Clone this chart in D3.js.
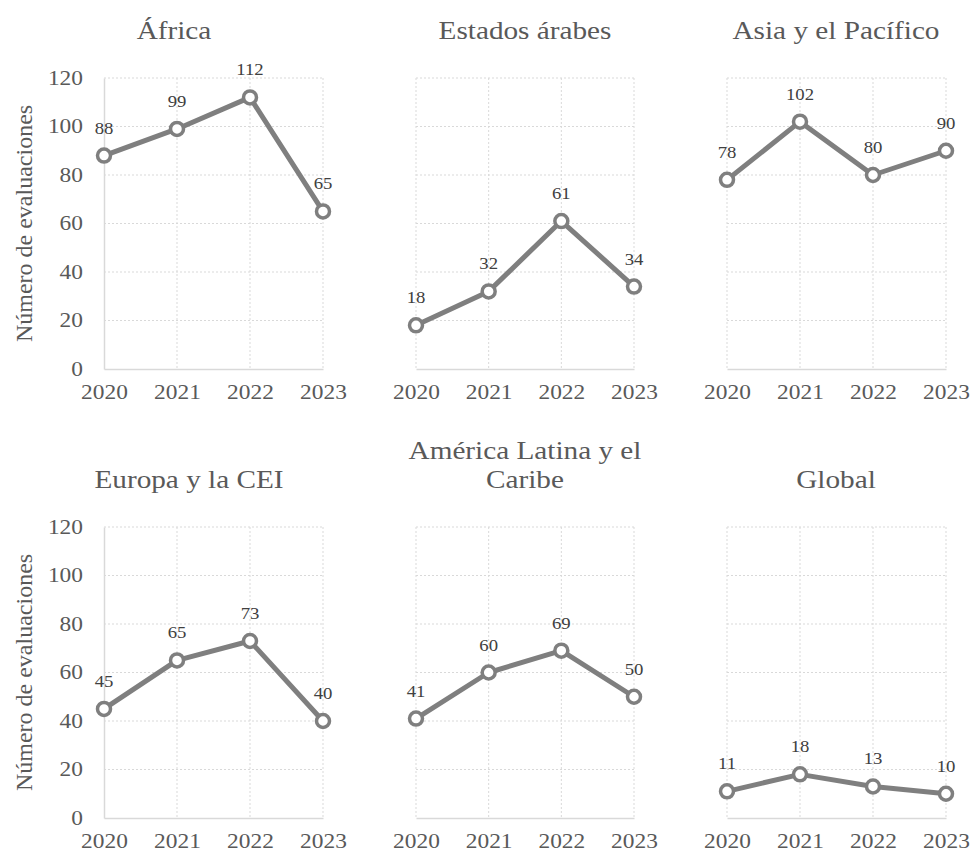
<!DOCTYPE html>
<html>
<head>
<meta charset="utf-8">
<script src="https://cdn.jsdelivr.net/npm/d3@7"></script>
<style>
	body { margin: 0; background: #fff; }
	svg text { font-family: "Liberation Serif", "Times New Roman", Tinos, Times, serif; fill: #595959; }
</style>
</head>
<body>
<div class="chart"></div>
<script>
// EVALUACIONES POR REGIÓN, SMALL MULTIPLES
const years = ['2020', '2021', '2022', '2023'];
const regions = ['África', 'Estados árabes', 'Asia y el Pacífico', 'Europa y la CEI', 'América Latina y el Caribe', 'Global'];
const africa = [88, 99, 112, 65];
const arabStates = [18, 32, 61, 34];
const asiaPacific = [78, 102, 80, 90];
const europeCis = [45, 65, 73, 40];
const latinAmerica = [41, 60, 69, 50];
const global = [11, 18, 13, 10];
const yTicks = [0, 20, 40, 60, 80, 100, 120];
const yTitle = 'Número de evaluaciones';

const series = [africa, arabStates, asiaPacific, europeCis, latinAmerica, global];

// layout of the 6 plot areas
const cols = [[104, 323], [416, 634], [727, 946]];
const rows = [[78, 369], [527, 818]];
const titleX = [174, 525, 836, 189, 525, 836];
const stretch = 'scale(1.17,1)'; // the text in the picture is a bit wide
const font = '"Liberation Serif", "Times New Roman", Tinos, Times, serif';
const grey = '#7f7f7f';
const gridColor = '#d9d9d9';

const svg = d3.select('.chart')
	.append('svg')
		.attr('width', 970)
		.attr('height', 852);

regions.forEach((name, i) => {
	const col = i % 3;
	const row = Math.floor(i / 3);
	const [x0, x1] = cols[col];
	const [y0, y1] = rows[row];
	const values = series[i];

	const xScale = d3.scalePoint()
		.domain(years)
		.range([x0, x1]);

	const yScale = d3.scaleLinear()
		.domain([0, 120])
		.range([y1, y0]);

	const g = svg.append('g').attr('class', 'panel');

	// dotted gridlines
	g.selectAll('.hgrid')
		.data(yTicks.filter(d => d > 0))
		.enter()
		.append('line')
			.attr('x1', x0).attr('x2', x1)
			.attr('y1', d => yScale(d)).attr('y2', d => yScale(d))
			.attr('stroke', gridColor)
			.attr('stroke-dasharray', '2,2');

	g.selectAll('.vgrid')
		.data(col === 0 ? years.slice(1) : years)
		.enter()
		.append('line')
			.attr('x1', d => xScale(d)).attr('x2', d => xScale(d))
			.attr('y1', y0).attr('y2', y1)
			.attr('stroke', gridColor)
			.attr('stroke-dasharray', '2,2');

	// x axis
	const xAxis = g.append('g')
		.attr('transform', `translate(0, ${y1})`)
		.attr('font-family', font)
		.call(d3.axisBottom(xScale).tickSize(0));
	xAxis.select('.domain').attr('stroke', gridColor).attr('stroke-width', 1.5);
	xAxis.selectAll('text')
		.attr('y', 30)
		.attr('dy', 0)
		.attr('transform', stretch)
		.style('font-family', font)
		.style('font-size', '20px')
		.style('fill', '#595959');

	// y axis only on the first column
	if (col === 0) {
		const yAxis = g.append('g')
			.attr('transform', `translate(${x0}, 0)`)
			.call(d3.axisLeft(yScale).tickValues(yTicks).tickSize(0));
		yAxis.select('.domain').attr('stroke', gridColor).attr('stroke-width', 1.5);
		yAxis.selectAll('text')
			.attr('x', -21 / 1.17)
			.attr('transform', stretch)
			.style('font-family', font)
			.style('font-size', '20px')
			.style('fill', '#595959');

		g.append('text')
			.attr('transform', `translate(32, ${(y0 + y1) / 2}) rotate(-90)`)
			.style('text-anchor', 'middle')
			.style('font-size', '24px')
			.text(yTitle);
	}

	// title, wrapped like the original
	const lines = [];
	name.split(' ').forEach(w => {
		const last = lines[lines.length - 1];
		if (last && (last + ' ' + w).length <= 19) lines[lines.length - 1] = last + ' ' + w;
		else lines.push(w);
	});
	lines.forEach((line, k) => {
		g.append('text')
			.attr('transform', `translate(${titleX[i]}, ${y0 - 39 - (lines.length - 1 - k) * 29}) ${stretch}`)
			.style('text-anchor', 'middle')
			.style('font-size', '25px')
			.text(line);
	});

	// line
	const line = d3.line()
		.x((d, j) => xScale(years[j]))
		.y(d => yScale(d));

	g.append('path')
		.datum(values)
		.attr('d', line)
		.attr('fill', 'none')
		.attr('stroke', grey)
		.attr('stroke-width', 5)
		.attr('stroke-linejoin', 'round');

	// markers + labels
	const pts = g.selectAll('.pt')
		.data(values)
		.enter()
		.append('g')
		.attr('class', 'pt')
		.attr('transform', (d, j) => `translate(${xScale(years[j])}, ${yScale(d)})`);

	pts.append('circle')
		.attr('r', 6.5)
		.attr('fill', '#fff')
		.attr('stroke', grey)
		.attr('stroke-width', 3.5);

	pts.append('text')
		.attr('transform', `translate(0, -22) ${stretch}`)
		.style('text-anchor', 'middle')
		.style('font-size', '16px')
		.style('fill', '#404040')
		.text(d => d);
});
</script>
</body>
</html>
